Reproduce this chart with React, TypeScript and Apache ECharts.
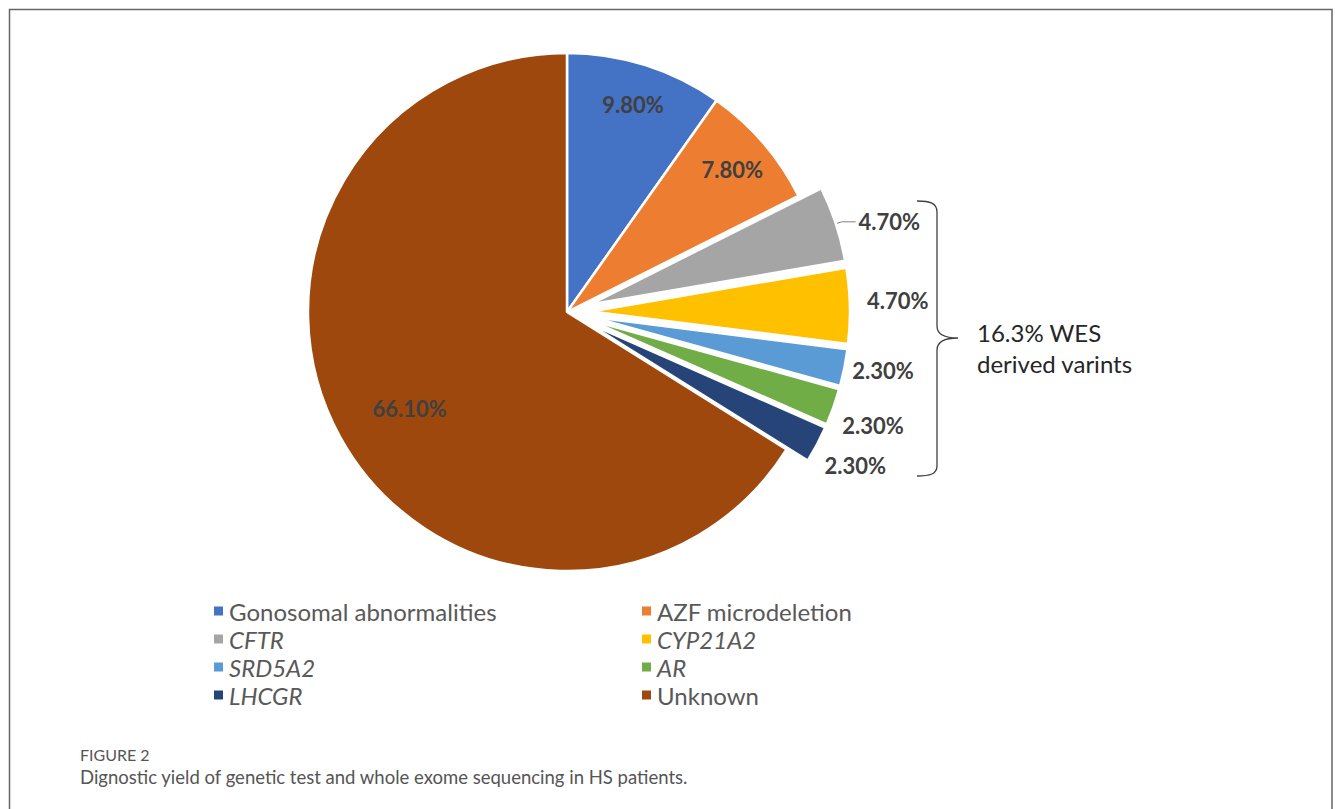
import React, { useEffect, useRef } from "react";
import * as echarts from "echarts";

const categories = [
  "Gonosomal abnormalities",
  "AZF microdeletion",
  "CFTR",
  "CYP21A2",
  "SRD5A2",
  "AR",
  "LHCGR",
  "Unknown",
];
const values = [9.8, 7.8, 4.7, 4.7, 2.3, 2.3, 2.3, 66.1];
const colors = ["#4472C4", "#ED7D31", "#A5A5A5", "#FFC000", "#5B9BD5", "#70AD47", "#264478", "#9E480E"];
const exploded = [false, false, true, true, true, true, true, false];
const italicNames = [false, false, true, true, true, true, true, false];
const leftLegend = ["Gonosomal abnormalities", "CFTR", "SRD5A2", "LHCGR"];
const rightLegend = ["AZF microdeletion", "CYP21A2", "AR", "Unknown"];
const noteLines = ["16.3% WES", "derived varints"];
const captionTitle = "FIGURE 2";
const captionText = "Dignostic yield of genetic test and whole exome sequencing in HS patients.";

const BRACE_D =
  "M917,201 C930,201 937,203 937,212 L937,326 C937,334 945,338 958,338 C945,338 937,342 937,350 L937,466 C937,474 930,476 917,476";

let registered = false;

export default function App() {
  const ref = useRef<HTMLDivElement>(null);

  useEffect(() => {
    if (!ref.current) return;
    if (!registered) {
      echarts.graphic.registerShape("brace", echarts.graphic.extendPath(BRACE_D, {}) as any);
      registered = true;
    }
    const chart = echarts.init(ref.current, undefined, { renderer: "svg" });

    const center = [567, 312];
    const labelFont = {
      fontFamily: "Lato",
      fontWeight: "bold" as const,
      fontSize: 22,
      color: "#404040",
    };
    const fmt = (p: any) => p.value.toFixed(2) + "%";

    // small label nudges (Excel "best fit" placement) for the outside labels
    const nudge: Record<number, { dx: number; dy: number }> = {
      2: { dx: 0, dy: 0 },
      3: { dx: 0, dy: -5 },
      4: { dx: -9, dy: 2 },
      5: { dx: -8, dy: 16 },
      6: { dx: -9, dy: 18 },
    };

    const mainData = values.map((v, i) => ({
      name: categories[i],
      value: v,
      selected: exploded[i],
      itemStyle: { color: colors[i] },
      label: { show: exploded[i] },
      labelLine: i === 2 ? { show: true, length: 6, length2: 14 } : { show: false },
    }));

    const overlay = (showIdx: number[], inner: number, outer: number, dy: number) => ({
      type: "pie",
      center,
      radius: [inner, outer],
      startAngle: 90,
      silent: true,
      avoidLabelOverlap: false,
      itemStyle: { color: "rgba(0,0,0,0)", borderWidth: 0 },
      emphasis: { disabled: true },
      labelLine: { show: false },
      label: { position: "inside", formatter: fmt, ...labelFont },
      labelLayout: () => ({ dy }),
      data: values.map((v, i) => ({
        name: categories[i],
        value: v,
        label: { show: showIdx.includes(i) },
      })),
    });

    const legendItem = (n: string) => {
      const i = categories.indexOf(n);
      return {
        name: n,
        itemStyle: { color: colors[i] },
        textStyle: { fontStyle: italicNames[i] ? "italic" : "normal" },
      };
    };
    const legendBase = {
      orient: "vertical",
      top: 594,
      itemWidth: 11,
      itemHeight: 11,
      itemGap: 4,
      icon: "rect",
      selectedMode: false,
      textStyle: { fontFamily: "Lato", fontSize: 24, lineHeight: 24, color: "#595959" },
    };

    chart.setOption({
      animation: false,
      backgroundColor: "#ffffff",
      legend: [
        { ...legendBase, left: 207, data: leftLegend.map(legendItem) },
        { ...legendBase, left: 635, data: rightLegend.map(legendItem) },
      ],
      series: [
        {
          type: "pie",
          center,
          radius: [0, 259],
          startAngle: 90,
          selectedMode: "multiple",
          selectedOffset: 24,
          avoidLabelOverlap: false,
          emphasis: { disabled: true },
          itemStyle: { borderColor: "#ffffff", borderWidth: 2.5 },
          label: {
            position: "outside",
            formatter: fmt,
            distanceToLabelLine: 3,
            ...labelFont,
          },
          labelLine: {
            length: 6,
            length2: 8,
            lineStyle: { color: "#7f7f7f", width: 1 },
          },
          labelLayout: (p: any) => nudge[p.dataIndex] || {},
          data: mainData,
        },
        overlay([0, 1], 180, 250, 0),
        overlay([7], 140, 214, 9),
      ],
      graphic: [
        {
          type: "rect",
          shape: { x: 9.5, y: 9.5, width: 1322.5, height: 900 },
          style: { fill: "none", stroke: "#666666", lineWidth: 1.5 },
          silent: true,
        },
        {
          type: "brace",
          x: 0,
          y: 0,
          shape: {},
          style: { fill: "none", stroke: "#404040", lineWidth: 1.3 },
          silent: true,
        },
        {
          type: "text",
          x: 977,
          y: 332,
          style: {
            text: noteLines[0],
            fontFamily: "Lato",
            fontSize: 24,
            fill: "#262626",
            verticalAlign: "middle",
          },
        },
        {
          type: "text",
          x: 977,
          y: 363,
          style: {
            text: noteLines[1],
            fontFamily: "Lato",
            fontSize: 24,
            fill: "#262626",
            verticalAlign: "middle",
          },
        },
        {
          type: "text",
          x: 80,
          y: 754,
          style: {
            text: captionTitle,
            fontFamily: "Lato",
            fontSize: 16,
            fill: "#555555",
            verticalAlign: "middle",
          },
        },
        {
          type: "text",
          x: 80,
          y: 777,
          style: {
            text: captionText,
            fontFamily: "Lato",
            fontSize: 18.5,
            fill: "#555555",
            verticalAlign: "middle",
          },
        },
      ],
    });

    return () => chart.dispose();
  }, []);

  return (
    <div
      ref={ref}
      style={{ position: "fixed", left: 0, top: 0, width: 1335, height: 809, background: "#fff" }}
    />
  );
}
